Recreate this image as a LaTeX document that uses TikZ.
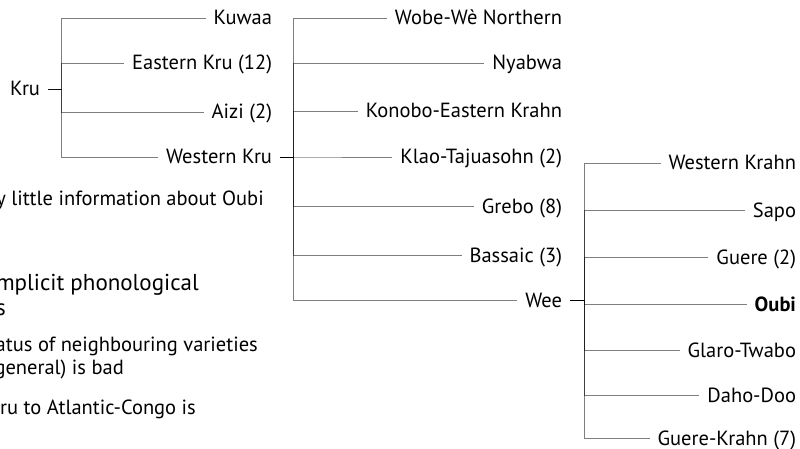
\documentclass[tikz,border=0pt]{standalone}
\usepackage{fontspec}
\setmainfont{PT Sans}
\begin{document}
\begin{tikzpicture}[x=1pt,y=-1pt,
  lang/.style={font=\fontsize{20.5}{24}\selectfont, inner xsep=4pt, outer xsep=4pt,
    inner ysep=0pt, outer ysep=0pt, text height=14pt, text depth=0pt, anchor=east},
  note/.style={font=\fontsize{20.5}{24}\selectfont, inner sep=0pt, text height=14pt, text depth=0pt, anchor=east},
  bignote/.style={font=\fontsize{23}{27}\selectfont, inner sep=0pt, text height=16pt, text depth=0pt, anchor=east},
  edge/.style={draw=black, draw opacity=0.5, line width=0.8pt}]
\useasboundingbox (0,0) rectangle (800,449);

% tree 1
\node[lang] (kru) at (48,89) {Kru};
\coordinate (v1) at (61,89);
\node[lang] (kuwaa) at (280,18) {Kuwaa};
\node[lang] (ekru) at (280,63) {Eastern Kru (12)};
\node[lang] (aizi) at (280,112) {Aizi (2)};
\node[lang] (wkru) at (280,157) {Western Kru};
\foreach \c in {kuwaa,ekru,aizi,wkru}
  \draw[edge] (kru.east) -- (v1) |- (\c.west);

% tree 2
\coordinate (v2) at (293,157);
\node[lang] (wobe) at (570,18) {Wobe-Wè Northern};
\node[lang] (nyab) at (570,63) {Nyabwa};
\node[lang] (kono) at (570,111) {Konobo-Eastern Krahn};
\node[lang] (klao) at (570,157) {Klao-Tajuasohn (2)};
\node[lang] (greb) at (570,206) {Grebo (8)};
\node[lang] (bass) at (570,255) {Bassaic (3)};
\node[lang] (wee) at (570,300) {Wee};
\foreach \c in {wobe,nyab,kono,klao,greb,bass,wee}
  \draw[edge] (wkru.east) -- (v2) |- (\c.west);

% tree 3
\coordinate (v3) at (584,300);
\node[lang] (wkra) at (804,163) {Western Krahn};
\node[lang] (sapo) at (804,210) {Sapo};
\node[lang] (guer) at (804,257) {Guere (2)};
\node[lang] (oubi) at (804,304) {\bfseries Oubi};
\node[lang] (glar) at (804,350) {Glaro-Twabo};
\node[lang] (daho) at (804,395) {Daho-Doo};
\node[lang] (gkra) at (804,438) {Guere-Krahn (7)};
\foreach \c in {wkra,sapo,guer,oubi,glar,daho,gkra}
  \draw[edge] (wee.east) -- (v3) |- (\c.west);

% background slide text (cut off)
\node[note] (n1) at (264,199) {y little information about Oubi};
\node[bignote] (n2) at (199,282) {mplicit phonological};
\node[bignote] (n3) at (6,307) {s};
\node[note] (n4) at (258,344) {atus of neighbouring varieties};
\node[note] (n5) at (124,367) {general) is bad};
\node[note] (n6) at (196,407) {ru to Atlantic-Congo is};
\end{tikzpicture}
\end{document}
